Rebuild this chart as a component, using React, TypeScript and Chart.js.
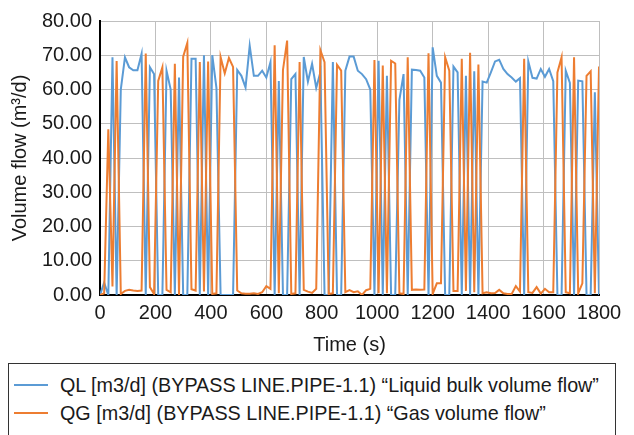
import React, { useEffect, useRef } from "react";
import { Chart, registerables } from "chart.js";

Chart.register(...registerables);

// Sampling interval of the simulation output (s)
const TIME_STEP_S = 15;

// X axis ticks (s) and Y axis range
const X_MIN = 0;
const X_MAX = 1800;
const X_STEP = 200;
const Y_MIN = 0;
const Y_MAX = 80;
const Y_STEP = 10;

// QL [m3/d] liquid bulk volume flow, one value every 15 s from 0 to 1800 s
const QL_VALUES = [
  0, 3.6, 0, 69.4, 0, 60, 69.4, 66.5, 65.6, 65.6,
  70.4, 0, 66.5, 64.5, 0, 0, 65.5, 60, 0, 63.5,
  0, 0, 69, 69, 0, 70, 0, 70, 60.5, 0,
  0, 0, 0, 65.7, 64, 60.6, 72.8, 64, 64, 65.5,
  63.5, 68, 0, 62.5, 0, 0, 63, 64.5, 0, 69.5,
  62.3, 67.5, 60.5, 65, 0, 0, 68, 0, 0, 65.5,
  69.6, 69.6, 65.5, 64.5, 63, 60, 0, 68.4, 0, 64,
  0, 0, 57, 64.5, 0, 65.8, 65.7, 65.5, 63.5, 0,
  72.3, 64, 62, 0, 0, 66.7, 65, 0, 64, 0,
  65.3, 0, 62.3, 62, 65, 68.2, 68.7, 66, 64.5, 63.5,
  62.3, 63.3, 0, 68.2, 63.4, 63.2, 66, 63.7, 66, 62.4,
  0, 0, 65.5, 61.9, 0, 62.6, 62.4, 0, 0, 59.2,
  0,
];

// QG [m3/d] gas volume flow, one value every 15 s from 0 to 1800 s
const QG_VALUES = [
  0, 0.5, 48.4, 2.5, 68.3, 0.3, 1.2, 1.5, 1.3, 1.2,
  1.3, 70.5, 2.3, 0.3, 62.5, 66.5, 1.5, 0.8, 67.5, 0,
  69.6, 73.6, 1.7, 1.3, 68, 1, 68.2, 0.3, 0.5, 69.5,
  64.7, 69.2, 66.6, 1.3, 0.5, 0.4, 0.4, 0.5, 0.3, 0.8,
  2.6, 1.8, 72.9, 0.5, 65.7, 74.3, 0.3, 0.5, 68, 1.5,
  1, 0.6, 1.8, 71.5, 68, 0.3, 0.5, 67.2, 65.5, 0.8,
  1.4, 0.8, 1.1, 0, 1.4, 1.8, 68.6, 0.5, 67, 0.5,
  68.4, 67.6, 0.5, 0.3, 69.4, 1.5, 1.6, 1.5, 1.6, 70.6,
  0.3, 3.4, 3.4, 69.4, 65.5, 1.2, 1.2, 69, 1.2, 70.7,
  0.8, 67.3, 0.5, 0.8, 0.5, 0.6, 1.5, 0.5, 0.3, 0.3,
  2.6, 1, 69, 0.8, 0.6, 2.3, 0.4, 1.8, 0.8, 0.8,
  65, 69.4, 0.8, 0.5, 69.4, 0.5, 3.4, 64, 65.3, 0.5,
  66.7,
];

const QL_LABEL = "QL [m3/d] (BYPASS LINE.PIPE-1.1) \u201cLiquid bulk volume flow\u201d";
const QG_LABEL = "QG [m3/d] (BYPASS LINE.PIPE-1.1) \u201cGas volume flow\u201d";
const X_TITLE = "Time (s)";
const Y_TITLE = "Volume flow (m\u00b3/d)";

const QL_COLOR = "#5B9BD5";
const QG_COLOR = "#ED7D31";
const TEXT_COLOR = "#1a1a1a";
const GRID_COLOR = "#BFBFBF";
const FONT_FAMILY = "'Liberation Sans', Arial, Helvetica, sans-serif";

export default function App() {
  const canvasRef = useRef<HTMLCanvasElement | null>(null);

  useEffect(() => {
    const canvas = canvasRef.current;
    if (!canvas) return;
    const toPoints = (vals: number[]) =>
      vals.map((v, i) => ({ x: i * TIME_STEP_S, y: v }));
    const font = { family: FONT_FAMILY, size: 20 };
    const chart = new Chart(canvas, {
      type: "line",
      data: {
        datasets: [
          {
            label: QL_LABEL,
            data: toPoints(QL_VALUES),
            borderColor: QL_COLOR,
            backgroundColor: QL_COLOR,
            borderWidth: 2,
            pointRadius: 0,
            tension: 0,
            order: 1,
          },
          {
            label: QG_LABEL,
            data: toPoints(QG_VALUES),
            borderColor: QG_COLOR,
            backgroundColor: QG_COLOR,
            borderWidth: 2,
            pointRadius: 0,
            tension: 0,
            order: 0,
          },
        ],
      },
      options: {
        responsive: false,
        animation: false,
        layout: { padding: { left: 0, right: 35, top: 13, bottom: 0 } },
        plugins: {
          legend: { display: false },
          tooltip: { enabled: false },
        },
        scales: {
          x: {
            type: "linear",
            min: X_MIN,
            max: X_MAX,
            ticks: {
              stepSize: X_STEP,
              font,
              color: TEXT_COLOR,
              padding: 6,
              maxRotation: 0,
              autoSkip: false,
              callback: (v: any) => String(v),
            },
            grid: { color: GRID_COLOR, drawTicks: false, lineWidth: 1 },
            border: { color: "#000", width: 2 },
            title: {
              display: true,
              text: X_TITLE,
              font,
              color: TEXT_COLOR,
              padding: { top: 0, bottom: 1 },
            },
            afterFit: (s: any) => {
              s.height = 63;
              s.paddingLeft = 0;
              s.paddingRight = 0;
            },
          },
          y: {
            min: Y_MIN,
            max: Y_MAX,
            ticks: {
              stepSize: Y_STEP,
              font,
              color: TEXT_COLOR,
              padding: 8,
              callback: (v: any) => Number(v).toFixed(2),
            },
            grid: { color: GRID_COLOR, drawTicks: false, lineWidth: 1 },
            border: { color: "#000", width: 2 },
            title: {
              display: true,
              text: Y_TITLE,
              font,
              color: TEXT_COLOR,
              padding: 0,
            },
            afterFit: (s: any) => {
              s.width = 92;
              s.paddingTop = 0;
              s.paddingBottom = 0;
            },
          },
        },
      },
    } as any);
    return () => chart.destroy();
  }, []);

  const legendRows = [
    { label: QL_LABEL, color: QL_COLOR, top: 21 },
    { label: QG_LABEL, color: QG_COLOR, top: 49 },
  ];

  return (
    <div
      style={{
        position: "fixed",
        left: 0,
        top: 0,
        width: 634,
        height: 435,
        overflow: "hidden",
        background: "#fff",
      }}
    >
      <canvas
        ref={canvasRef}
        width={626}
        height={350}
        style={{ position: "absolute", left: 8, top: 8, width: 626, height: 350 }}
      />
      <div
        style={{
          position: "absolute",
          left: 8,
          top: 363,
          width: 608,
          height: 90,
          border: "1px solid #333",
          boxSizing: "border-box",
          fontFamily: FONT_FAMILY,
          fontSize: 19.75,
          color: TEXT_COLOR,
        }}
      >
        {legendRows.map((r) => (
          <div key={r.label}>
            <div
              style={{
                position: "absolute",
                left: 5,
                top: r.top - 1,
                width: 34,
                height: 2,
                background: r.color,
              }}
            />
            <div
              style={{
                position: "absolute",
                left: 51,
                top: r.top - 12,
                lineHeight: "24px",
                whiteSpace: "nowrap",
              }}
            >
              {r.label}
            </div>
          </div>
        ))}
      </div>
    </div>
  );
}
